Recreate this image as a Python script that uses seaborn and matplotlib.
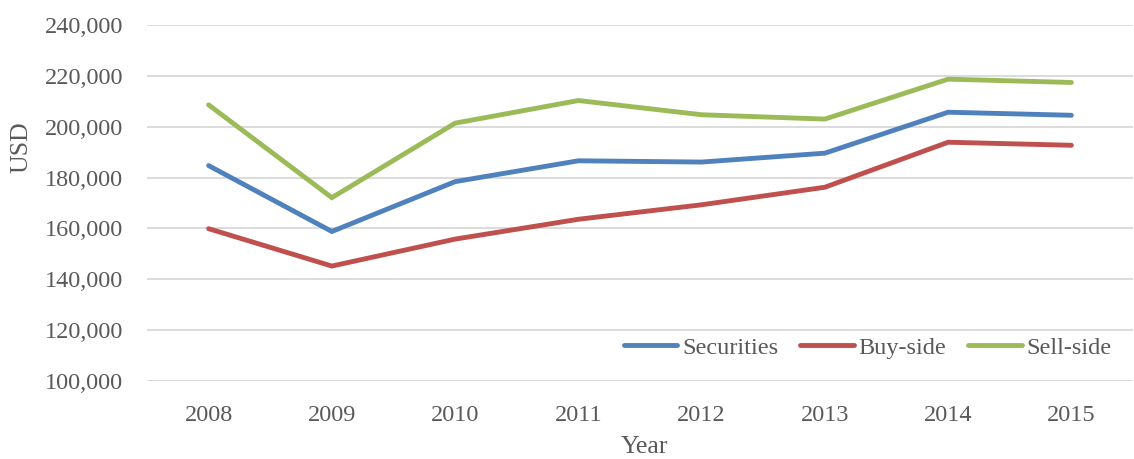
import matplotlib
matplotlib.use("Agg")
import matplotlib.pyplot as plt
import seaborn as sns
import pandas as pd
from matplotlib.ticker import FuncFormatter, MultipleLocator

years = ["2008", "2009", "2010", "2011", "2012", "2013", "2014", "2015"]
securities = [184700, 158800, 178400, 186600, 186100, 189600, 205700, 204500]
buy_side = [159900, 145200, 155800, 163600, 169300, 176200, 193900, 192700]
sell_side = [208600, 172100, 201400, 210300, 204700, 203000, 218700, 217400]
series_names = ["Securities", "Buy-side", "Sell-side"]
colors = ["#4F81BD", "#C0504D", "#9BBB59"]

sns.set_theme(style="white")
plt.rcParams["font.family"] = ["Liberation Serif", "DejaVu Serif"]

rows = []
for name, vals in zip(series_names, [securities, buy_side, sell_side]):
    for i, (y, v) in enumerate(zip(years, vals)):
        rows.append({"pos": i, "Year": y, "USD": v, "Series": name})
df = pd.DataFrame(rows)

fig = plt.figure(figsize=(11.34, 4.59), dpi=100)
ax = fig.add_axes([147 / 1134, (459 - 381) / 459, (1133 - 147) / 1134, (381 - 25) / 459])

sns.lineplot(data=df, x="pos", y="USD", hue="Series", hue_order=series_names,
             palette=colors, linewidth=3.5, ax=ax, solid_capstyle="round",
             solid_joinstyle="miter")

txt = "#595959"
ax.set_xlim(-0.5, 7.5)
ax.set_ylim(100000, 240000)
ax.yaxis.set_major_locator(MultipleLocator(20000))
ax.yaxis.set_major_formatter(FuncFormatter(lambda v, p: f"{int(v):,}"))
ax.set_xticks(range(len(years)))
ax.set_xticklabels(years)
ax.grid(axis="y", color="#D9D9D9", linewidth=1.3)
ax.grid(axis="x", visible=False)
ax.set_axisbelow(True)
for s in ax.spines.values():
    s.set_visible(False)
ax.tick_params(axis="both", length=0, labelsize=17.5, labelcolor=txt)
ax.tick_params(axis="x", pad=17)
ax.tick_params(axis="y", pad=17)

ax.set_xlabel("Year", fontsize=18.5, color=txt)
ax.set_ylabel("USD", fontsize=18.5, color=txt)
ax.xaxis.set_label_coords(0.505, -0.185)
ax.yaxis.set_label_coords(-0.127, 0.657)
ax.xaxis.label.set_va("center")
ax.yaxis.label.set_va("center")

leg = ax.legend(loc="center", bbox_to_anchor=(0.731, 0.093), ncol=3, frameon=False,
                fontsize=17.5, handlelength=2.2, handletextpad=0.2, columnspacing=0.9,
                labelcolor=txt)
for h in leg.get_lines():
    h.set_linewidth(3.5)
    h.set_solid_capstyle("round")

fig.savefig("out.png", dpi=100)
